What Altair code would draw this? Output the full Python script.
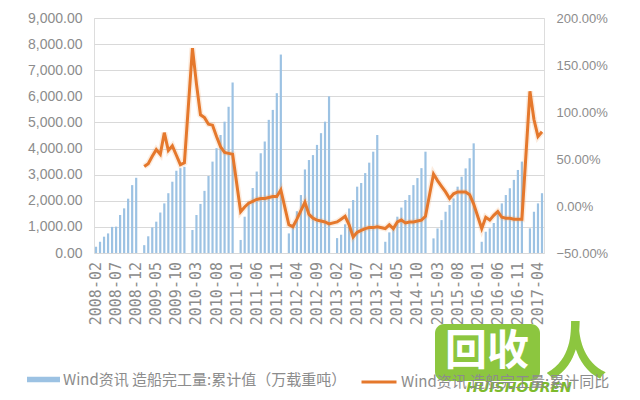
import altair as alt
import pandas as pd

# ---- data ----
years = [2008, 2009, 2010, 2011, 2012, 2013, 2014, 2015, 2016, 2017]

# cumulative completions (10k dwt), Feb..Dec of each year (January not reported)
bar_2008 = [240, 430, 625, 750, 1000, 1010, 1455, 1710, 2080, 2600, 2880]
bar_2009 = [300, 640, 980, 1200, 1550, 1900, 2290, 2730, 3150, 3250, 3300]
bar_2010 = [880, 1455, 1880, 2380, 2950, 3500, 4015, 4520, 5030, 5600, 6530]
bar_2011 = [500, 1390, 1970, 2490, 3120, 3820, 4270, 5100, 5480, 6120, 7600]
bar_2012 = [750, 1100, 1600, 2220, 3200, 3560, 3750, 4140, 4590, 5030, 6000]
bar_2013 = [570, 700, 1100, 1700, 2030, 2540, 2680, 3060, 3460, 3880, 4520]
bar_2014 = [430, 790, 900, 1390, 1740, 2030, 2220, 2600, 2870, 3250, 3880]
bar_2015 = [560, 940, 1260, 1580, 1840, 2090, 2540, 2920, 3240, 3630, 4200]
bar_2016 = [430, 815, 945, 1150, 1520, 1900, 2220, 2480, 2800, 3180, 3500]
bar_2017 = [945, 1580, 1900, 2290]

# cumulative YoY (%), Feb..Dec
yoy_2009 = [42, 45, 53, 60, 55, 78, 59, 64, 54, 44, 46]
yoy_2010 = [168, 130, 97, 94, 87, 86, 74, 63, 57, 56, 55]
yoy_2011 = [-6, -1, 3, 5, 7, 8, 8, 9, 10, 10, 17]
yoy_2012 = [-20, -22, -14, -5, 4, -9, -13, -15, -16, -17, -19]
yoy_2013 = [-17, -14, -11, -20, -33, -28, -26, -24, -23, -23, -22]
yoy_2014 = [-24, -20, -24, -17, -15, -18, -17, -17, -16, -15, -11]
yoy_2015 = [34, 27, 21, 15, 8, 13, 15, 15, 15, 12, 2]
yoy_2016 = [-24, -12, -15, -10, -6, -12, -13, -13, -14, -14, -14]
yoy_2017 = [122, 92, 74, 79]

bar_name = "Wind资讯 造船完工量:累计值（万载重吨）"
line_name = "Wind资讯 造船完工量:累计同比"

# ---- build tables ----
months = [f"{y}-{m:02d}" for y in range(2008, 2018) for m in range(1, 13)]
months = months[months.index("2008-02"): months.index("2017-05") + 1]

bars_by_year = dict(zip(years, [bar_2008, bar_2009, bar_2010, bar_2011, bar_2012,
                                bar_2013, bar_2014, bar_2015, bar_2016, bar_2017]))
yoy_by_year = dict(zip(years[1:], [yoy_2009, yoy_2010, yoy_2011, yoy_2012, yoy_2013,
                                   yoy_2014, yoy_2015, yoy_2016, yoy_2017]))

bar_rows, line_rows = [], []
for y, vals in bars_by_year.items():
    for k, v in enumerate(vals):
        bar_rows.append({"month": f"{y}-{k + 2:02d}", "value": v, "s": bar_name})
for y, vals in yoy_by_year.items():
    for k, v in enumerate(vals):
        line_rows.append({"month": f"{y}-{k + 2:02d}", "yoy": v / 100.0, "s": line_name})
bar_df = pd.DataFrame(bar_rows)
line_df = pd.DataFrame(line_rows)

# x tick labels: every 5th month starting 2008-02
tick_labels = months[::5]
tick_df = pd.DataFrame({"month": tick_labels})

grey = "#8c8c8c"
x_scale = alt.Scale(domain=months, paddingInner=0, paddingOuter=0)

bars = alt.Chart(bar_df).mark_bar(size=2.2).encode(
    x=alt.X("month:O", scale=x_scale, axis=None),
    y=alt.Y("value:Q",
            scale=alt.Scale(domain=[0, 9000], nice=False),
            axis=alt.Axis(values=list(range(0, 9001, 1000)), format=",.2f", title=None,
                          ticks=False, domain=False, gridColor="#d9d9d9",
                          labelPadding=12, labelFont="Liberation Sans",
                          labelFontSize=14, labelColor=grey)),
    color=alt.Color("s:N", scale=alt.Scale(domain=[bar_name], range=["#9cc2e3"]),
                    legend=alt.Legend(orient="none", legendX=-67, legendY=345, title=None,
                                      symbolType="M-1,-0.16L1,-0.16L1,0.16L-1,0.16Z",
                                      symbolSize=1089, symbolFillColor="#5f92c8",
                                      symbolStrokeWidth=0, labelFont="Noto Sans CJK SC",
                                      labelFontSize=15, labelColor=grey, labelLimit=500,
                                      labelOffset=3)),
)

ticks_text = alt.Chart(tick_df).mark_text(
    angle=270, align="right", baseline="middle", font="DejaVu Sans Mono",
    fontSize=15, color=grey
).encode(
    x=alt.X("month:O", scale=x_scale, axis=None),
    y=alt.value(244),
    text="month:N",
)

y2 = alt.Y("yoy:Q",
           scale=alt.Scale(domain=[-0.5, 2.0], nice=False),
           axis=alt.Axis(orient="right", values=[-0.5, 0, 0.5, 1.0, 1.5, 2.0], format=".2%",
                         title=None, ticks=False, domain=False, grid=False,
                         labelPadding=12, labelFont="Liberation Sans",
                         labelFontSize=13, labelColor=grey))

glow = alt.Chart(line_df).mark_line(strokeWidth=6, opacity=0.2, color="#f0a060").encode(
    x=alt.X("month:O", scale=x_scale, axis=None),
    y=alt.Y("yoy:Q", scale=alt.Scale(domain=[-0.5, 2.0], nice=False), axis=None))

line = alt.Chart(line_df).mark_line(strokeWidth=3).encode(
    x=alt.X("month:O", scale=x_scale, axis=None),
    y=y2,
    color=alt.Color("s:N", scale=alt.Scale(domain=[line_name], range=["#e5782c"]),
                    legend=alt.Legend(orient="none", legendX=266, legendY=345, title=None,
                                      symbolType="stroke", symbolSize=1225,
                                      symbolStrokeWidth=3, labelFont="Noto Sans CJK SC",
                                      labelFontSize=15, labelColor=grey, labelLimit=500,
                                      labelOffset=3)),
)

# watermark logo
wm = pd.DataFrame({"t": ["回收"]})
wm_box = alt.Chart(wm).mark_rect(color="#8cc63f", cornerRadius=9).encode(
    x=alt.value(341), x2=alt.value(446), y=alt.value(306), y2=alt.value(363))
wm_txt = alt.Chart(wm).mark_text(color="white", font="Noto Sans CJK SC", fontWeight="bold",
                                 fontSize=42, align="center", baseline="middle").encode(
    x=alt.value(393), y=alt.value(334), text="t:N")
wm_ren = alt.Chart(pd.DataFrame({"t": ["人"]})).mark_text(
    color="#8cc63f", font="Noto Sans CJK SC", fontWeight="bold", fontSize=62,
    align="center", baseline="middle").encode(x=alt.value(482), y=alt.value(337), text="t:N")
wm_en = alt.Chart(pd.DataFrame({"t": ["HUISHOUREN"]})).mark_text(
    color="#7dbb2c", font="DejaVu Sans", fontWeight="bold", fontStyle="italic", fontSize=14,
    align="center", baseline="middle").encode(x=alt.value(425), y=alt.value(370), text="t:N")

chart = alt.layer(bars, ticks_text, glow, line, wm_box, wm_txt, wm_ren, wm_en).resolve_scale(
    y="independent", color="independent"
).properties(
    width=450, height=235,
    autosize=alt.AutoSizeParams(type="none"),
    padding={"left": 86, "top": 10, "right": 88, "bottom": 146},
).configure_view(stroke=None).configure(background="white")

chart.save("out.html", embed_options={"renderer": "svg", "actions": False})
